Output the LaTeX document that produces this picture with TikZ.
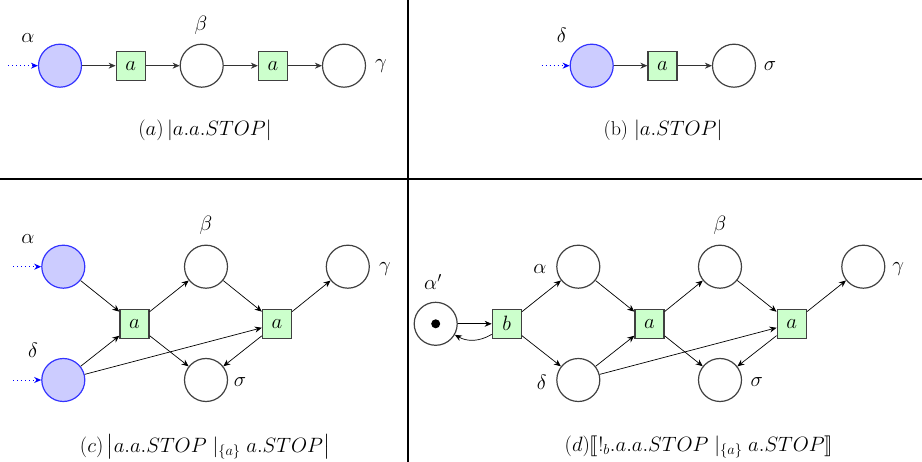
\documentclass[tikz,border=0pt]{standalone}
\usepackage{amsmath,stmaryrd}
\usetikzlibrary{arrows.meta}
\tikzset{
  place/.style={circle, draw=black!75, line width=1.2pt, minimum size=43pt, inner sep=0pt},
  startplace/.style={place, draw=blue!80, fill=blue!20},
  trans/.style={rectangle, draw=black!75, fill=green!20, line width=1.3pt, minimum size=29pt, inner sep=0pt},
  arc/.style={-{Stealth[length=7pt,width=6pt]}, line width=0.7pt},
  entry/.style={-{Stealth[length=7pt,width=6pt]}, blue, line width=0.9pt, dash pattern=on 1pt off 3pt},
  lbl/.style={inner sep=0pt},
  divider/.style={line width=2.4pt},
}
\begin{document}
\begin{tikzpicture}[x=1pt,y=-1pt,font=\fontsize{20}{24}\selectfont]
\useasboundingbox (0,0) rectangle (922,462);
% dividers
\coordinate (vt) at (408,0); \coordinate (vb) at (408,462);
\coordinate (hl) at (0,179); \coordinate (hr) at (922,179);
\draw[divider] (vt) -- (vb);
\draw[divider] (hl) -- (hr);

% ---------- (a)
\node[startplace] (aA) at (60,65.7) {};
\node[trans] (aT1) at (130.7,65.7) {$a$};
\node[place] (aB) at (201.7,65.7) {};
\node[trans] (aT2) at (273,65.7) {$a$};
\node[place] (aG) at (344,65.7) {};
\node[lbl] (laA) at (28,38) {$\alpha$};
\node[lbl] (laB) at (201,25) {$\beta$};
\node[lbl] (laG) at (381,66) {$\gamma$};
\coordinate (aE) at (8,65.7);
\draw[entry] (aE) -- (aA);
\draw[arc, black!80] (aA) -- (aT1);
\draw[arc, black!80] (aT1) -- (aB);
\draw[arc, black!80] (aB) -- (aT2);
\draw[arc, black!80] (aT2) -- (aG);
\node (capa) at (205,130) {$(a)\,|a.a.STOP|$};

% ---------- (b)
\node[startplace] (bD) at (591.7,65.7) {};
\node[trans] (bT) at (662.5,65.7) {$a$};
\node[place] (bS) at (734,65.7) {};
\node[lbl] (lbD) at (561.7,35) {$\delta$};
\node[lbl] (lbS) at (770,66) {$\sigma$};
\coordinate (bE) at (541.7,65.7);
\draw[entry] (bE) -- (bD);
\draw[arc, black!80] (bD) -- (bT);
\draw[arc, black!80] (bT) -- (bS);
\node (capb) at (663,130) {(b) $|a.STOP|$};

% ---------- (c)
\node[startplace] (cA) at (63.3,266.7) {};
\node[startplace] (cD) at (63.3,380) {};
\node[trans] (cT1) at (134.5,323.8) {$a$};
\node[place] (cB) at (206,266.7) {};
\node[place] (cS) at (206,380) {};
\node[trans] (cT2) at (277,323.8) {$a$};
\node[place] (cG) at (347.8,266.7) {};
\node[lbl] (lcA) at (28,239) {$\alpha$};
\node[lbl] (lcD) at (33,350) {$\delta$};
\node[lbl] (lcB) at (206,225) {$\beta$};
\node[lbl] (lcG) at (385,269) {$\gamma$};
\node[lbl] (lcS) at (240,382) {$\sigma$};
\coordinate (cEA) at (13,266.7);
\coordinate (cED) at (13,380);
\draw[entry] (cEA) -- (cA);
\draw[entry] (cED) -- (cD);
\draw[arc] (cA) -- (cT1);
\draw[arc] (cD) -- (cT1);
\draw[arc] (cD) -- (cT2);
\draw[arc] (cT1) -- (cB);
\draw[arc] (cT1) -- (cS);
\draw[arc] (cB) -- (cT2);
\draw[arc] (cT2) -- (cG);
\draw[arc] (cT2) -- (cS);
\node (capc) at (205,447) {$(c)\,\bigl|a.a.STOP\;|_{\{a\}}\;a.STOP\bigr|$};

% ---------- (d)
\node[place] (dP) at (435.7,323.8) {};
\fill (dP.center) circle (4.5pt);
\node[trans] (dTb) at (506.8,323.8) {$b$};
\node[place] (dA) at (578.3,266.7) {};
\node[place] (dD) at (578.3,380) {};
\node[trans] (dT1) at (649.5,323.8) {$a$};
\node[place] (dB) at (720,266.7) {};
\node[place] (dS) at (720,380) {};
\node[trans] (dT2) at (791.7,323.8) {$a$};
\node[place] (dG) at (863.3,266.7) {};
\node[lbl] (ldP) at (433,282) {$\alpha'$};
\node[lbl] (ldA) at (540,269) {$\alpha$};
\node[lbl] (ldD) at (541.7,382) {$\delta$};
\node[lbl] (ldB) at (720,225) {$\beta$};
\node[lbl] (ldS) at (756.7,382) {$\sigma$};
\node[lbl] (ldG) at (898.3,269) {$\gamma$};
\draw[arc] (dP) -- (dTb);
\draw[arc] (dTb.215) to[bend left=30] (dP.-30);
\draw[arc] (dTb) -- (dA);
\draw[arc] (dTb) -- (dD);
\draw[arc] (dA) -- (dT1);
\draw[arc] (dD) -- (dT1);
\draw[arc] (dD) -- (dT2);
\draw[arc] (dT1) -- (dB);
\draw[arc] (dT1) -- (dS);
\draw[arc] (dB) -- (dT2);
\draw[arc] (dT2) -- (dG);
\draw[arc] (dT2) -- (dS);
\node (capd) at (699,447) {$(d)\llbracket !_b.a.a.STOP\;|_{\{a\}}\;a.STOP\rrbracket$};
\end{tikzpicture}
\end{document}
